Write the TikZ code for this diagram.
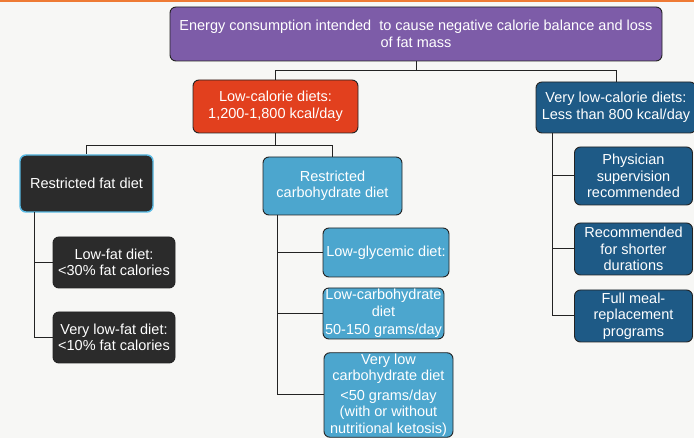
\documentclass[tikz,border=0pt]{standalone}
\usepackage{fontspec}
\setmainfont{Liberation Sans}
\usetikzlibrary{positioning}

\definecolor{paper}{RGB}{247,247,245}
\definecolor{topbar}{RGB}{238,122,52}
\definecolor{energyviolet}{RGB}{125,92,168}
\definecolor{lowcalred}{RGB}{226,64,30}
\definecolor{vlowcalblue}{RGB}{30,90,134}
\definecolor{fatblack}{RGB}{43,43,43}
\definecolor{fatrim}{RGB}{88,186,228}
\definecolor{carbblue}{RGB}{76,166,206}
\definecolor{linegray}{RGB}{35,35,35}

\tikzset{
  dietbox/.style={draw=linegray, line width=0.9pt, rounded corners=6pt, text=white,
    align=center, inner sep=1pt, font=\fontsize{14.5}{16.5}\selectfont},
  energybox/.style={dietbox, fill=energyviolet},
  lowcalbox/.style={dietbox, fill=lowcalred},
  vlowcalbox/.style={dietbox, fill=vlowcalblue},
  fatbox/.style={dietbox, fill=fatblack},
  carbbox/.style={dietbox, fill=carbblue},
  branch/.style={draw=linegray, line width=1pt}
}

\begin{document}
\begin{tikzpicture}[x=1pt,y=-1pt]
  \useasboundingbox (0,0) rectangle (694,438);
  \clip (0,0) rectangle (694,438);
  \fill[paper] (0,0) rectangle (694,438);
  \fill[topbar] (0,0) rectangle (694,2);

  % top level
  \draw (416,34) node[energybox, minimum width=492pt, minimum height=54pt] (energy)
    {Energy consumption intended \ to cause negative calorie balance and loss\\of fat mass};

  % second level
  \draw (275.5,106.5) node[lowcalbox, minimum width=165pt, minimum height=53pt] (lowcal)
    {Low-calorie diets:\\1,200-1,800 kcal/day};
  \draw (616,107.5) node[vlowcalbox, minimum width=160pt, minimum height=51pt] (vlowcal)
    {Very low-calorie diets:\\Less than 800 kcal/day};

  % third level
  \draw (86.5,183.5) node[fatbox, draw=fatrim, line width=1.4pt, minimum width=133pt, minimum height=57pt] (fatdiet)
    {Restricted fat diet};
  \draw (332.5,186) node[carbbox, minimum width=139pt, minimum height=58pt] (carbdiet)
    {Restricted\\carbohydrate diet};

  % restricted fat leaves
  \draw (114,262.5) node[fatbox, minimum width=122pt, minimum height=51pt] (lowfat)
    {Low-fat diet:\\<30\% fat calories};
  \draw (114,337.5) node[fatbox, minimum width=122pt, minimum height=51pt] (vlowfat)
    {Very low-fat diet:\\<10\% fat calories};

  % restricted carbohydrate leaves
  \draw (386,252.5) node[carbbox, minimum width=126pt, minimum height=49pt] (lowgly)
    {Low-glycemic diet:};
  \draw (383.5,313.5) node[carbbox, minimum width=121pt, minimum height=51pt] (lowcarb)
    {Low-carbohydrate\\diet\\[2pt]50-150 grams/day};
  \draw (388.5,395) node[carbbox, minimum width=129pt, minimum height=84pt] (vlowcarb)
    {Very low\\carbohydrate diet\\[3pt]<50 grams/day\\(with or without\\nutritional ketosis)};

  % very low-calorie leaves
  \draw (633.5,176) node[vlowcalbox, minimum width=118pt, minimum height=58pt] (physician)
    {Physician\\supervision\\recommended};
  \draw (633.5,249) node[vlowcalbox, minimum width=118pt, minimum height=52pt] (shorter)
    {Recommended\\for shorter\\durations};
  \draw (633.5,316) node[vlowcalbox, minimum width=118pt, minimum height=52pt] (mealrep)
    {Full meal-\\replacement\\programs};

  % spines
  \coordinate (fatspine) at (34,212);
  \coordinate (carbspine) at (277,215);
  \coordinate (vlowspine) at (552,133);

  \path[branch] (energy.south) -- ++(0,9) -| (lowcal.north);
  \path[branch] (energy.south) -- ++(0,9) -| (vlowcal.north);
  \path[branch] (lowcal.south) -- ++(0,12) -| (fatdiet.north);
  \path[branch] (lowcal.south) -- ++(0,12) -| (carbdiet.north);

  \path[branch] (fatspine) |- (lowfat.west);
  \path[branch] (fatspine) |- (vlowfat.west);
  \path[branch] (carbspine) |- (lowgly.west);
  \path[branch] (carbspine) |- (lowcarb.west);
  \path[branch] (carbspine) |- (vlowcarb.west);
  \path[branch] (vlowspine) |- (physician.west);
  \path[branch] (vlowspine) |- (shorter.west);
  \path[branch] (vlowspine) |- (mealrep.west);

\end{tikzpicture}
\end{document}
